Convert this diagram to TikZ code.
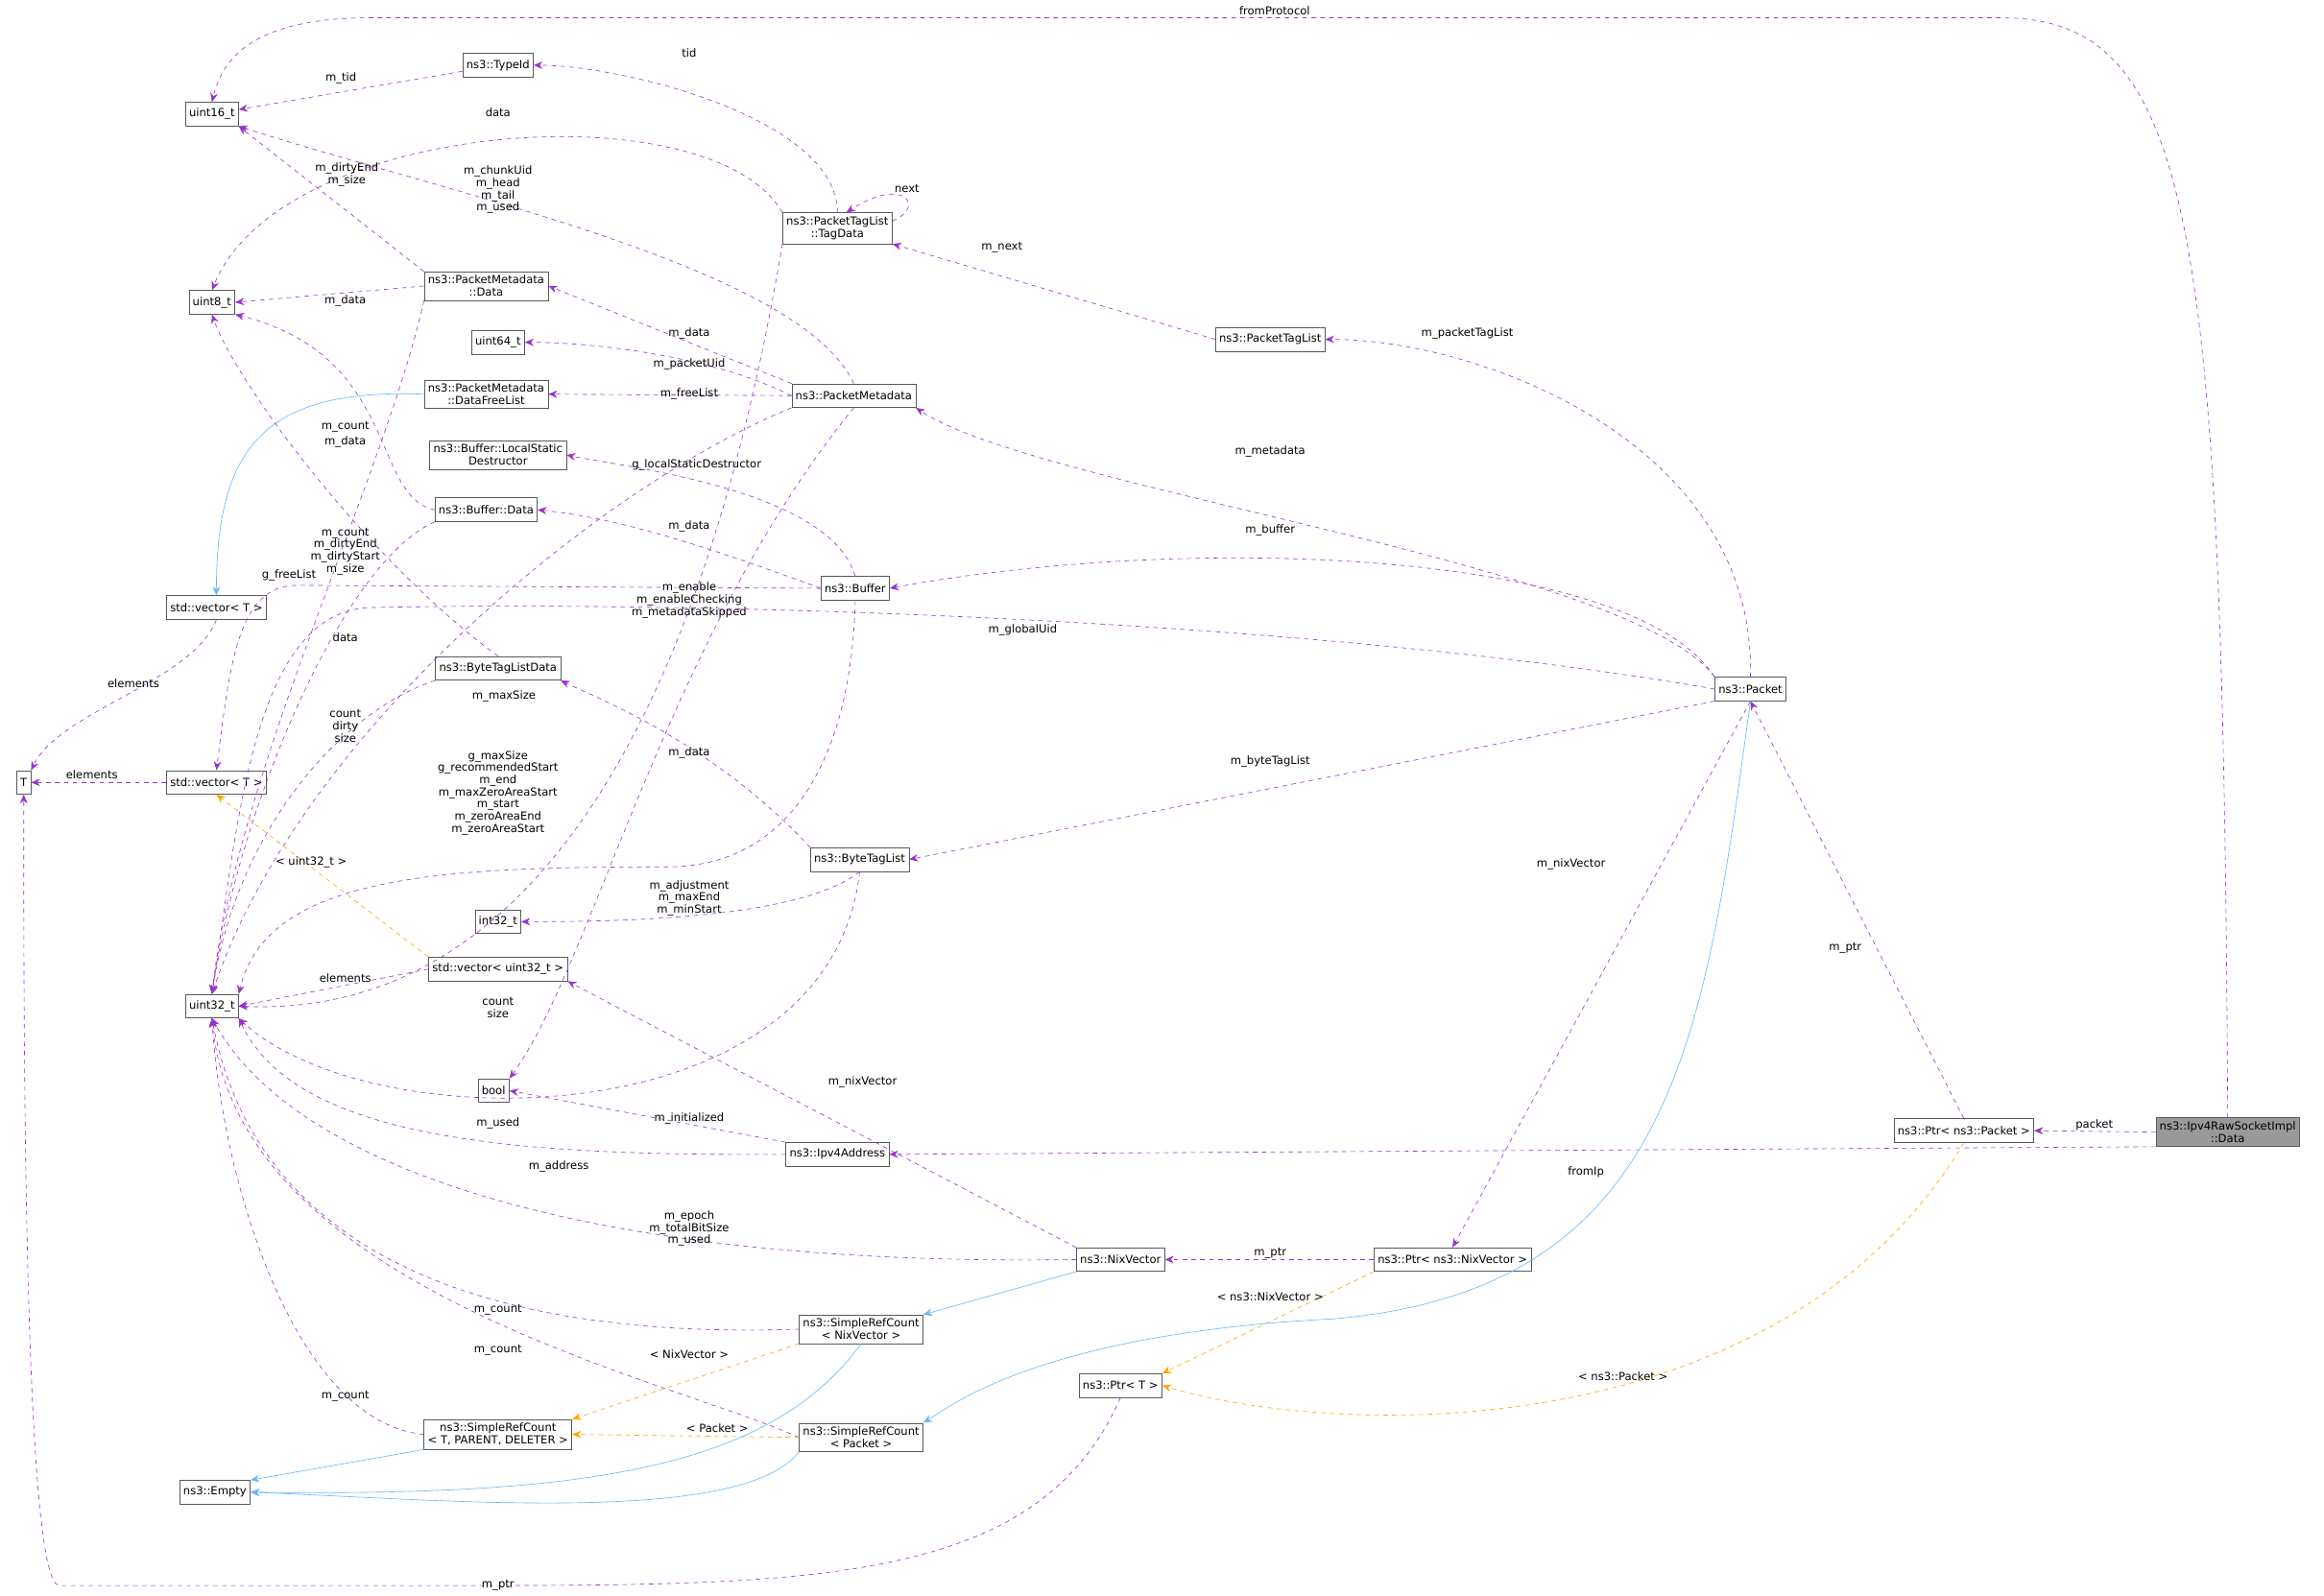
\documentclass[tikz,border=0pt]{standalone}
\usepackage{fontspec}
\setmainfont{DejaVu Sans}
\usetikzlibrary{arrows.meta}
\definecolor{dep}{HTML}{9A32CD}
\definecolor{inh}{HTML}{63B8FF}
\definecolor{tmpl}{HTML}{FFA500}
\tikzset{
  cls/.style = {draw = black!65, fill = white, inner sep = 2.5pt, align = center,
    font = \fontsize{7.5}{8.5}\selectfont, minimum height = 16pt},
  lbl/.style = {inner sep = 1pt, align = center, font = \fontsize{7.5}{8.2}\selectfont},
  uses/.style = {draw = dep, dashed, -{Stealth[length = 6pt, width = 5pt]}},
  isa/.style = {draw = inh, -{Stealth[length = 6pt, width = 5pt]}},
  inst/.style = {draw = tmpl, dashed, -{Stealth[length = 6pt, width = 5pt]}},
}
\begin{document}
\begin{tikzpicture}[x = 1pt, y = -1pt]
  \useasboundingbox (0, 0) rectangle (1568, 1077);
  % classes
  \node[cls] (uint16) at (143, 77) {uint16\_t};
  \node[cls] (typeid) at (336, 44) {ns3::TypeId};
  \node[cls] (tagdata) at (565, 154) {ns3::PacketTagList\\::TagData};
  \node[cls] (uint8) at (143, 204) {uint8\_t};
  \node[cls] (pmdata) at (328, 193) {ns3::PacketMetadata\\::Data};
  \node[cls] (uint64) at (336, 231) {uint64\_t};
  \node[cls] (freelist) at (328, 266) {ns3::PacketMetadata\\::DataFreeList};
  \node[cls] (metadata) at (576, 267) {ns3::PacketMetadata};
  \node[cls] (taglist) at (857, 229) {ns3::PacketTagList};
  \node[cls] (destructor) at (336, 307) {ns3::Buffer::LocalStatic\\Destructor};
  \node[cls] (bufdata) at (328, 344) {ns3::Buffer::Data};
  \node[cls] (buffer) at (577, 397) {ns3::Buffer};
  \node[cls] (vector a) at (146, 410) {std::vector< T >};
  \node[cls] (btldata) at (336, 451) {ns3::ByteTagListData};
  \node[cls] (packet) at (1181, 465) {ns3::Packet};
  \node[cls] (t) at (16, 528) {T};
  \node[cls] (vector b) at (146, 528) {std::vector< T >};
  \node[cls] (btl) at (580, 580) {ns3::ByteTagList};
  \node[cls] (int32) at (336, 622) {int32\_t};
  \node[cls] (vector u32) at (336, 654) {std::vector< uint32\_t >};
  \node[cls] (uint32) at (143, 679) {uint32\_t};
  \node[cls] (bool) at (333, 736) {bool};
  \node[cls] (ptr packet) at (1325, 763) {ns3::Ptr< ns3::Packet >};
  \node[cls, fill = black!40] (sockdata) at (1503, 764) {ns3::Ipv4RawSocketImpl\\::Data};
  \node[cls] (ipv4) at (565, 779) {ns3::Ipv4Address};
  \node[cls] (nix) at (756, 850) {ns3::NixVector};
  \node[cls] (ptr nix) at (980, 850) {ns3::Ptr< ns3::NixVector >};
  \node[cls] (src nix) at (581, 897) {ns3::SimpleRefCount\\< NixVector >};
  \node[cls] (ptr t) at (756, 935) {ns3::Ptr< T >};
  \node[cls] (src tpd) at (336, 968) {ns3::SimpleRefCount\\< T, PARENT, DELETER >};
  \node[cls] (src packet) at (581, 970) {ns3::SimpleRefCount\\< Packet >};
  \node[cls] (empty) at (145, 1007) {ns3::Empty};
  % members
  \draw[uses] (sockdata.north) .. controls (1500, 150) and (1480, 12) .. (1350, 12) -- (250, 12)
    .. controls (170, 12) and (150, 40) .. (uint16.north) node[lbl, at = {(860, 7)}] {fromProtocol};
  \draw[uses] (typeid) -- (uint16) node[lbl, at = {(230, 53)}] {m\_tid};
  \draw[uses] (tagdata.north) .. controls (565, 80) and (420, 44) .. (typeid.east) node[lbl, at = {(465, 36)}] {tid};
  \draw[uses] ([yshift = 5pt]tagdata.east) .. controls (625, 140) and (610, 118) .. ([xshift = 6pt]tagdata.north)
    node[lbl, at = {(612, 127)}] {next};
  \draw[uses] (tagdata.north west) .. controls (480, 60) and (190, 80) .. (uint8.north) node[lbl, at = {(336, 76)}] {data};
  \draw[uses] (pmdata.north west) -- (uint16.south east) node[lbl, at = {(234, 118)}] {m\_dirtyEnd\\m\_size};
  \draw[uses] (metadata.north) .. controls (540, 180) and (300, 130) .. (uint16.south east)
    node[lbl, at = {(336, 128)}] {m\_chunkUid\\m\_head\\m\_tail\\m\_used};
  \draw[uses] (pmdata.west) -- (uint8.east) node[lbl, at = {(233, 203)}] {m\_data};
  \draw[uses] (metadata.north west) -- (pmdata.east) node[lbl, at = {(465, 225)}] {m\_data};
  \draw[uses] (metadata.west) .. controls (480, 240) and (400, 231) .. (uint64.east) node[lbl, at = {(465, 246)}] {m\_packetUid};
  \draw[uses] (metadata.west) -- (freelist.east) node[lbl, at = {(465, 266)}] {m\_freeList};
  \draw[uses] (taglist.west) -- (tagdata.south east) node[lbl, at = {(676, 167)}] {m\_next};
  \draw[uses] (packet.north) .. controls (1185, 300) and (1000, 229) .. (taglist.east) node[lbl, at = {(990, 225)}] {m\_packetTagList};
  \draw[uses] (packet.north west) .. controls (1100, 380) and (700, 330) .. (metadata.south east) node[lbl, at = {(857, 305)}] {m\_metadata};
  \draw[uses] (bufdata.west) .. controls (250, 335) and (270, 240) .. (uint8.south east) node[lbl, at = {(233, 298)}] {m\_data};
  \draw[isa] (freelist.west) .. controls (180, 262) and (146, 300) .. (vector a.north);
  \draw[uses] (pmdata.south west) .. controls (260, 320) and (160, 520) .. (uint32.north) node[lbl, at = {(233, 288)}] {m\_count};
  \draw[uses] (buffer.north) .. controls (560, 330) and (420, 315) .. (destructor.east) node[lbl, at = {(470, 314)}] {g\_localStaticDestructor};
  \draw[uses] (buffer.west) .. controls (480, 370) and (420, 350) .. (bufdata.east) node[lbl, at = {(465, 355)}] {m\_data};
  \draw[uses] (packet.north west) .. controls (1100, 370) and (800, 360) .. (buffer.east) node[lbl, at = {(857, 358)}] {m\_buffer};
  \draw[uses] (bufdata.south west) .. controls (230, 380) and (160, 550) .. (uint32.north)
    node[lbl, at = {(233, 372)}] {m\_count\\m\_dirtyEnd\\m\_dirtyStart\\m\_size};
  \draw[uses] (buffer.west) -- (200, 395) .. controls (160, 395) and (155, 450) .. (vector b.north) node[lbl, at = {(195, 388)}] {g\_freeList};
  \draw[uses] (metadata.south) .. controls (450, 430) and (400, 650) .. (bool.north east)
    node[lbl, at = {(465, 405)}] {m\_enable\\m\_enableChecking\\m\_metadataSkipped};
  \draw[uses] (packet.west) .. controls (900, 420) and (500, 405) .. (250, 410)
    .. controls (170, 412) and (160, 560) .. (uint32.north) node[lbl, at = {(690, 425)}] {m\_globalUid};
  \draw[uses] (btldata.south west) .. controls (230, 480) and (160, 560) .. (uint32.north) node[lbl, at = {(233, 490)}] {count\\dirty\\size};
  \draw[uses] (btldata.north) .. controls (250, 380) and (160, 260) .. (uint8.south) node[lbl, at = {(233, 430)}] {data};
  \draw[uses] (btl.north west) .. controls (480, 500) and (400, 470) .. (btldata.south east) node[lbl, at = {(465, 508)}] {m\_data};
  \draw[uses] (packet.south west) -- (btl.east) node[lbl, at = {(857, 514)}] {m\_byteTagList};
  \draw[uses] (buffer.south) .. controls (575, 500) and (540, 585) .. (450, 585)
    .. controls (300, 585) and (180, 590) .. (uint32.north east)
    node[lbl, at = {(336, 535)}] {g\_maxSize\\g\_recommendedStart\\m\_end\\m\_maxZeroAreaStart\\m\_start\\m\_zeroAreaEnd\\m\_zeroAreaStart};
  \draw[uses] (tagdata.south west) .. controls (500, 330) and (420, 690) .. (uint32.east) node[lbl, at = {(336, 680)}] {count\\size};
  \draw[uses] (metadata.south west) .. controls (400, 330) and (200, 500) .. (uint32.north) node[lbl, at = {(340, 470)}] {m\_maxSize};
  \draw[uses] (vector a.south) .. controls (130, 460) and (40, 480) .. (t.north east) node[lbl, at = {(90, 461)}] {elements};
  \draw[uses] (vector b.west) -- (t.east) node[lbl, at = {(62, 523)}] {elements};
  \draw[inst] (vector u32.north west) -- (vector b.south) node[lbl, at = {(210, 582)}] {< uint32\_t >};
  \draw[uses] (vector u32.west) -- (uint32.east) node[lbl, at = {(233, 660)}] {elements};
  \draw[uses] (btl.south) .. controls (540, 620) and (420, 622) .. (int32.east) node[lbl, at = {(465, 606)}] {m\_adjustment\\m\_maxEnd\\m\_minStart};
  \draw[uses] (btl.south) .. controls (560, 770) and (250, 770) .. (uint32.south east) node[lbl, at = {(336, 758)}] {m\_used};
  \draw[uses] (nix.north west) -- (vector u32.south east) node[lbl, at = {(582, 730)}] {m\_nixVector};
  \draw[uses] (ipv4.north west) -- (bool.east) node[lbl, at = {(465, 755)}] {m\_initialized};
  \draw[uses] (ipv4.west) .. controls (350, 780) and (200, 770) .. (uint32.south east) node[lbl, at = {(377, 787)}] {m\_address};
  \draw[uses] (nix.west) .. controls (400, 855) and (200, 790) .. (uint32.south) node[lbl, at = {(465, 829)}] {m\_epoch\\m\_totalBitSize\\m\_used};
  \draw[uses] (src nix.west) .. controls (300, 905) and (170, 830) .. (uint32.south) node[lbl, at = {(336, 884)}] {m\_count};
  \draw[uses] (src packet.west) .. controls (450, 930) and (160, 870) .. (uint32.south) node[lbl, at = {(336, 911)}] {m\_count};
  \draw[uses] (src tpd.west) .. controls (200, 960) and (150, 800) .. (uint32.south) node[lbl, at = {(233, 942)}] {m\_count};
  \draw[uses] (ptr packet.north) -- (packet.south) node[lbl, at = {(1245, 640)}] {m\_ptr};
  \draw[uses] (packet.south) -- (ptr nix.north) node[lbl, at = {(1060, 583)}] {m\_nixVector};
  \draw[uses] (ptr nix.west) -- (nix.east) node[lbl, at = {(857, 846)}] {m\_ptr};
  \draw[uses] (sockdata.west) -- (ptr packet.east) node[lbl, at = {(1413, 759)}] {packet};
  \draw[uses] (sockdata.south west) -- (ipv4.east) node[lbl, at = {(1070, 791)}] {fromIp};
  \draw[uses] (ptr t.south) .. controls (700, 1070) and (550, 1070) .. (300, 1070) -- (40, 1070)
    .. controls (16, 1070) and (16, 700) .. (t.south) node[lbl, at = {(336, 1070)}] {m\_ptr};
  % templates
  \draw[inst] (src nix.south west) -- (src tpd.north east) node[lbl, at = {(465, 914)}] {< NixVector >};
  \draw[inst] (src packet.west) -- (src tpd.east) node[lbl, at = {(484, 964)}] {< Packet >};
  \draw[inst] (ptr nix.south west) -- (ptr t.north east) node[lbl, at = {(857, 875)}] {< ns3::NixVector >};
  \draw[inst] (ptr packet.south) .. controls (1200, 980) and (900, 970) .. (ptr t.east) node[lbl, at = {(1095, 929)}] {< ns3::Packet >};
  % inheritance
  \draw[isa] (nix.south west) -- (src nix.north east);
  \draw[isa] (packet.south) .. controls (1150, 700) and (1130, 870) .. (900, 890)
    .. controls (700, 900) and (640, 950) .. (src packet.north east);
  \draw[isa] (src nix.south) .. controls (520, 990) and (400, 1010) .. (empty.east);
  \draw[isa] (src packet.south west) .. controls (500, 1030) and (300, 1012) .. (empty.east);
  \draw[isa] (src tpd.south west) -- (empty.north east);
\end{tikzpicture}
\end{document}
